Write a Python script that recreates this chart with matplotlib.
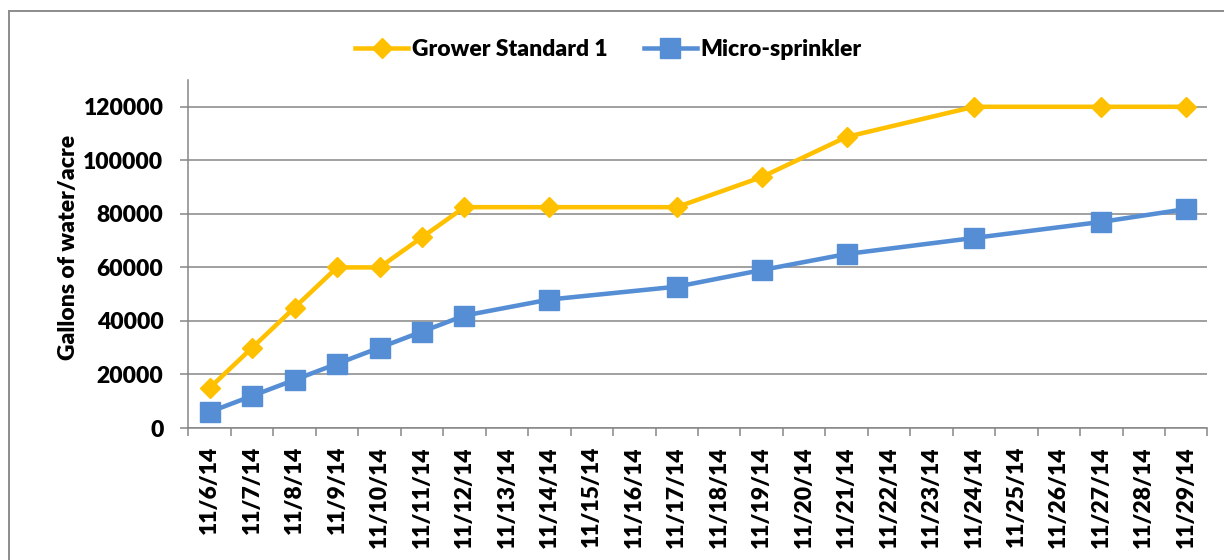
import matplotlib.pyplot as plt
from matplotlib.lines import Line2D

plt.rcParams['font.family'] = ['Lato', 'DejaVu Sans']
plt.rcParams['font.weight'] = 'heavy'

# x categories: every day from 11/6/14 to 11/29/14
categories = ['11/%d/14' % d for d in range(6, 30)]

# measured dates and cumulative gallons/acre
sample_dates = ['11/6/14', '11/7/14', '11/8/14', '11/9/14', '11/10/14', '11/11/14',
                '11/12/14', '11/14/14', '11/17/14', '11/19/14', '11/21/14',
                '11/24/14', '11/27/14', '11/29/14']
grower = [15000, 30000, 45000, 60000, 60000, 71250, 82500, 82500, 82500,
          93750, 108750, 120000, 120000, 120000]
micro = [6000, 12000, 18000, 24000, 30000, 36000, 42000, 48000, 52800,
         59000, 65000, 71000, 77000, 81800]

yticks = [0, 20000, 40000, 60000, 80000, 100000, 120000]

xpos = [categories.index(d) for d in sample_dates]

fig = plt.figure(figsize=(12.24, 5.6), dpi=100)
ax = fig.add_axes([0.154, 0.2357, 0.8325, 0.6214])

grey = '#868686'
ax.plot(xpos, grower, color='#FFC000', lw=3.25, marker='D', ms=10,
        mec='#FFC000', mfc='#FFC000', label='Grower Standard 1', zorder=3)
ax.plot(xpos, micro, color='#558ED5', lw=3.25, marker='s', ms=14,
        mec='#558ED5', mfc='#558ED5', label='Micro-sprinkler', zorder=3)

ax.set_xlim(-0.5, len(categories) - 0.5)
ax.set_ylim(0, 130000)
ax.set_yticks(yticks)
ax.set_yticklabels([str(v) for v in yticks])
ax.yaxis.grid(True, color=grey, lw=1.1)
ax.set_axisbelow(True)

ax.set_xticks(range(len(categories)))
ax.set_xticklabels(categories, rotation=90)
ax.set_xticks([i - 0.5 for i in range(len(categories) + 1)], minor=True)
ax.tick_params(axis='x', which='major', length=0, pad=13, labelsize=16.5)
ax.tick_params(axis='x', which='minor', length=6, width=1.1, color=grey, direction='out')
ax.tick_params(axis='y', length=6, width=1.1, color=grey, pad=12, labelsize=16.5)

for s in ['top', 'right']:
    ax.spines[s].set_visible(False)
for s in ['left', 'bottom']:
    ax.spines[s].set_color(grey)
    ax.spines[s].set_linewidth(1.1)

ax.set_ylabel('Gallons of water/acre', fontsize=16.5, fontweight='heavy')
ax.yaxis.set_label_coords(-0.107, 0.52)

fig.legend(loc='center', bbox_to_anchor=(0.497, 0.911), ncol=2, frameon=False,
           fontsize=16.5, handlelength=2.3, handletextpad=0.15, columnspacing=1.6)

# outer chart border (left and top visible)
x0 = 8.5 / 1224
y0 = 1 - 10.5 / 560
fig.add_artist(Line2D([x0, x0], [0, y0], color='#8c8c8c', lw=1.4))
fig.add_artist(Line2D([x0, 1], [y0, y0], color='#8c8c8c', lw=1.4))

fig.savefig('out.png', dpi=100)
